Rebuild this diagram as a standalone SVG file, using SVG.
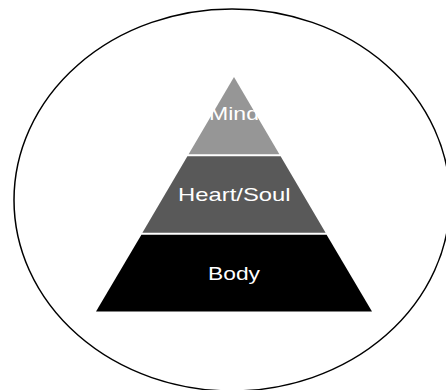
<svg xmlns="http://www.w3.org/2000/svg" width="446" height="390" viewBox="0 0 446 390">
<style>
.lbl{font-family:"Liberation Sans",Arial,sans-serif;font-size:19px;fill:#ffffff;text-anchor:middle}
</style>
<rect width="446" height="390" fill="#ffffff"/>
<g id="circle">
<ellipse cx="232" cy="200" rx="218" ry="191" fill="none" stroke="#000000" stroke-width="1.5"/>
</g>
<g id="mind">
<polygon points="234,77 279.4,154.2 188.6,154.2" fill="#969696"/>
<text class="lbl" x="234" y="120" textLength="50" lengthAdjust="spacingAndGlyphs">Mind</text>
</g>
<g id="heart-soul">
<polygon points="187.4,156.2 280.6,156.2 325.6,232.8 142.4,232.8" fill="#595959"/>
<text class="lbl" x="234.3" y="201" textLength="112.5" lengthAdjust="spacingAndGlyphs">Heart/Soul</text>
</g>
<g id="body">
<polygon points="141.4,234.8 326.6,234.8 372,311.6 96,311.6" fill="#000000"/>
<text class="lbl" x="234" y="280" textLength="52" lengthAdjust="spacingAndGlyphs">Body</text>
</g>
<g id="connectors"></g>
</svg>
